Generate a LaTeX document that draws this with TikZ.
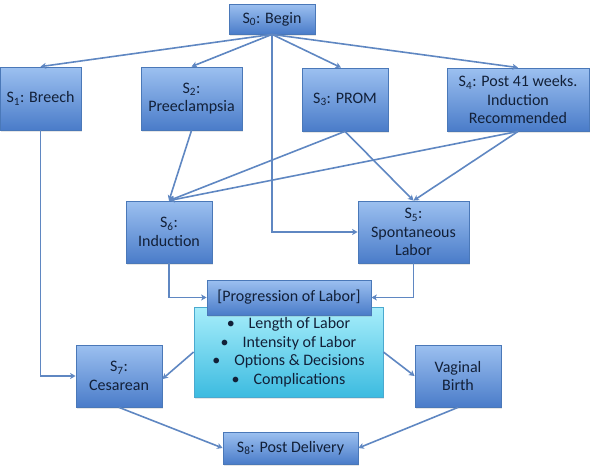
\documentclass[tikz,border=0pt]{standalone}
\usepackage{fontspec}
\setmainfont{Carlito}
\usetikzlibrary{arrows.meta,shadows}
\definecolor{boxtop}{HTML}{9CC0F0}
\definecolor{boxbot}{HTML}{4A7CC9}
\definecolor{boxline}{HTML}{4A78B8}
\definecolor{listtop}{HTML}{A8EEFB}
\definecolor{listbot}{HTML}{3CBBE0}
\definecolor{listline}{HTML}{4AA9CF}
\definecolor{arrowc}{HTML}{5F87C2}
\definecolor{ink}{HTML}{122038}
\begin{document}
\begin{tikzpicture}[x=1pt, y=-1pt,
    state/.style={draw=boxline, line width=0.8pt, top color=boxtop, bottom color=boxbot,
      align=center, inner sep=0pt, text=ink, font=\fontsize{16}{18.5}\selectfont,
      drop shadow={opacity=0.2, shadow xshift=1pt, shadow yshift=-1.5pt}},
    flow/.style={draw=arrowc, line width=1.6pt, -{Stealth[length=5.5pt,width=6pt,inset=1.5pt]}}]
  \useasboundingbox (0,0) rectangle (593,471);

  % states
  \node[state, minimum width=86pt, minimum height=30pt] (s0) at (272,19) {S\textsubscript{0}: Begin};
  \node[state, minimum width=81pt, minimum height=63pt] (s1) at (40.5,98.5) {S\textsubscript{1}: Breech};
  \node[state, minimum width=101pt, minimum height=63pt] (s2) at (191.5,98.5) {S\textsubscript{2}:\\Preeclampsia};
  \node[state, minimum width=86pt, minimum height=63pt] (s3) at (345,99.5) {S\textsubscript{3}: PROM};
  \node[state, minimum width=142pt, minimum height=63pt] (s4) at (518,99.5) {S\textsubscript{4}: Post 41 weeks.\\Induction\\Recommended};
  \node[state, minimum width=86pt, minimum height=62pt] (s6) at (169,232) {S\textsubscript{6}:\\Induction};
  \node[state, minimum width=111pt, minimum height=62pt] (s5) at (413.5,232) {S\textsubscript{5}:\\Spontaneous\\Labor};

  % progression of labor
  \node[state, draw=listline, top color=listtop, bottom color=listbot, minimum width=189pt, minimum height=90pt] (list) at (288.5,352)
    {\textbullet\hspace{14pt}Length of Labor\\\textbullet\hspace{14pt}Intensity of Labor\\
     \textbullet\hspace{14pt}Options \& Decisions\\\textbullet\hspace{14pt}Complications};
  \node[state, minimum width=164pt, minimum height=35pt] (prog) at (289,297.5) {[Progression of Labor]};

  \node[state, minimum width=86pt, minimum height=62pt] (s7) at (119,376) {S\textsubscript{7}:\\Cesarean};
  \node[state, minimum width=86pt, minimum height=62pt] (vb) at (458,376) {Vaginal\\Birth};
  \node[state, minimum width=135pt, minimum height=32pt] (s8) at (290.5,448) {S\textsubscript{8}: Post Delivery};

  % transitions
  \draw[flow] (s0.south) -- (s1.north);
  \draw[flow] (s0.south) -- (s2.north);
  \draw[flow] (s0.south) -- ([xshift=-4pt]s3.north);
  \draw[flow] (s0.south) -- (s4.north);
  \draw[flow] (s0.south) |- (s5.west);

  \draw[flow] (s2.south) -- (s6.north);
  \draw[flow] (s3.south) -- (s6.north);
  \draw[flow] (s4.south) -- (s6.north);
  \draw[flow] (s3.south) -- (s5.north);
  \draw[flow] (s4.south) -- (s5.north);

  \draw[flow] (s6.south) |- (prog.west);
  \draw[flow] (s5.south) |- (prog.east);
  \draw[flow] (s1.south) |- (s7.west);
  \draw[flow] (list.west) -- ([yshift=-3pt]s7.east);
  \draw[flow] (list.east) -- (vb.west);

  \draw[flow] (s7.south) -- (s8.west);
  \draw[flow] (vb.south) -- (s8.east);
\end{tikzpicture}
\end{document}
